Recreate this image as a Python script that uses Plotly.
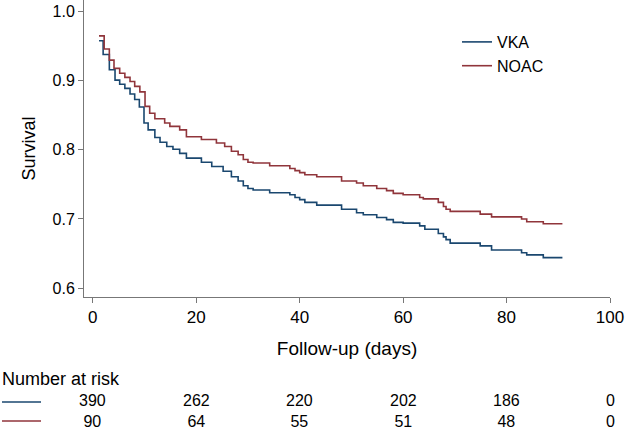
import plotly.graph_objects as go

# Kaplan-Meier steps
vka_days = [1.2, 2.0, 3.2, 4.3, 5.2, 6.2, 7.2, 8.1, 9.0, 9.9,
            10.7, 12.0, 13.0, 14.3, 15.5, 16.8, 18.1, 21.0, 23.0, 25.2,
            26.8, 28.1, 29.1, 30.0, 31.0, 34.2, 38.1, 39.1, 40.0, 41.0,
            43.3, 48.1, 51.0, 52.3, 54.9, 56.8, 58.1, 60.0, 63.2, 64.2,
            66.8, 67.8, 68.3, 69.1, 74.9, 77.1, 82.9, 83.9, 87.1, 90.8]
vka_surv = [0.958, 0.938, 0.916, 0.901, 0.895, 0.889, 0.881, 0.873, 0.862, 0.839,
            0.829, 0.818, 0.811, 0.805, 0.801, 0.795, 0.788, 0.782, 0.776, 0.769,
            0.761, 0.755, 0.748, 0.744, 0.742, 0.738, 0.735, 0.731, 0.728, 0.724,
            0.720, 0.714, 0.709, 0.706, 0.702, 0.699, 0.695, 0.694, 0.690, 0.685,
            0.679, 0.674, 0.670, 0.665, 0.661, 0.655, 0.651, 0.648, 0.644, 0.644]

noac_days = [1.2, 2.2, 3.2, 4.1, 5.2, 6.2, 7.2, 8.1, 9.1, 10.1,
             11.0, 12.0, 13.9, 14.9, 16.8, 18.1, 21.0, 23.9, 25.5, 26.8,
             28.1, 29.1, 30.0, 31.0, 34.2, 38.1, 39.1, 40.0, 41.0, 43.3,
             48.1, 51.0, 52.3, 54.9, 56.8, 58.1, 60.0, 63.2, 63.9, 66.8,
             67.8, 68.3, 69.1, 74.9, 77.1, 82.9, 83.9, 87.1, 90.8]
noac_surv = [0.965, 0.946, 0.930, 0.918, 0.911, 0.905, 0.899, 0.892, 0.884, 0.863,
             0.853, 0.845, 0.839, 0.834, 0.829, 0.819, 0.815, 0.810, 0.805, 0.798,
             0.793, 0.786, 0.782, 0.781, 0.777, 0.773, 0.770, 0.767, 0.764, 0.761,
             0.755, 0.752, 0.748, 0.744, 0.741, 0.737, 0.735, 0.731, 0.729, 0.724,
             0.718, 0.714, 0.711, 0.707, 0.703, 0.700, 0.696, 0.693, 0.693]

# number at risk table
risk_times = [0, 20, 40, 60, 80, 100]
vka_risk = [390, 262, 220, 202, 186, 0]
noac_risk = [90, 64, 55, 51, 48, 0]

x_ticks = [0, 20, 40, 60, 80, 100]
y_ticks = [0.6, 0.7, 0.8, 0.9, 1.0]

NAVY = '#1a476f'
MAROON = '#90353b'
FONT = 'Liberation Sans, Arial, sans-serif'

W, H = 625, 431
M_L, M_R, M_T, M_B = 84, 15, 0, 134
PW, PH = W - M_L - M_R, H - M_T - M_B


def px_x(px):
    return (px - M_L) / PW


def px_y(py):
    return (M_T + PH - py) / PH


fig = go.Figure()
fig.add_trace(go.Scatter(x=vka_days, y=vka_surv, mode='lines', name='VKA',
                         line=dict(color=NAVY, width=1.6, shape='hv')))
fig.add_trace(go.Scatter(x=noac_days, y=noac_surv, mode='lines', name='NOAC',
                         line=dict(color=MAROON, width=1.6, shape='hv')))

annotations = [dict(text='Number at risk', x=px_x(0), y=px_y(379), xref='paper', yref='paper',
                    xanchor='left', yanchor='middle', showarrow=False,
                    font=dict(size=18, color='#000'))]
# one two-line cell per time point (VKA on top, NOAC below)
for t, a, b in zip(risk_times, vka_risk, noac_risk):
    annotations.append(dict(text=f'{a}<br>{b}', x=t, y=px_y(411), xref='x', yref='paper',
                            xanchor='center', yanchor='middle', align='center',
                            showarrow=False, borderpad=0,
                            font=dict(size=16, color='#000')))

shapes = [
    dict(type='line', xref='paper', yref='paper', x0=px_x(2), x1=px_x(41),
         y0=px_y(402), y1=px_y(402), line=dict(color=NAVY, width=1.4)),
    dict(type='line', xref='paper', yref='paper', x0=px_x(2), x1=px_x(41),
         y0=px_y(421), y1=px_y(421), line=dict(color=MAROON, width=1.4)),
]

fig.update_layout(
    width=W, height=H,
    margin=dict(l=M_L, r=M_R, t=M_T, b=M_B),
    paper_bgcolor='white', plot_bgcolor='white',
    font=dict(family=FONT, size=15, color='#000'),
    showlegend=True,
    legend=dict(x=px_x(457), y=px_y(25), xanchor='left', yanchor='top',
                bgcolor='rgba(0,0,0,0)', font=dict(size=16), tracegroupgap=0),
    annotations=annotations,
    shapes=shapes,
)
fig.update_xaxes(range=[-1.7, 100], tickvals=x_ticks, ticks='outside', ticklen=5,
                 tickcolor='#777', showline=True, linecolor='#777', linewidth=1,
                 showgrid=False, zeroline=False, tickfont=dict(size=17),
                 title=dict(text='Follow-up (days)', font=dict(size=19), standoff=15))
fig.update_yaxes(range=[0.587, 1.017], tickvals=y_ticks, tickformat='.1f', ticks='outside',
                 ticklen=5, tickcolor='#777', showline=True, linecolor='#777', linewidth=1,
                 showgrid=False, zeroline=False, tickfont=dict(size=16),
                 title=dict(text='Survival', font=dict(size=18), standoff=12))

# page has a default body margin; drop it so the figure sits at the window corner
fig.write_html("out.html", config={'displayModeBar': False},
               post_script="document.body.style.margin='0';document.body.style.overflow='hidden';")
